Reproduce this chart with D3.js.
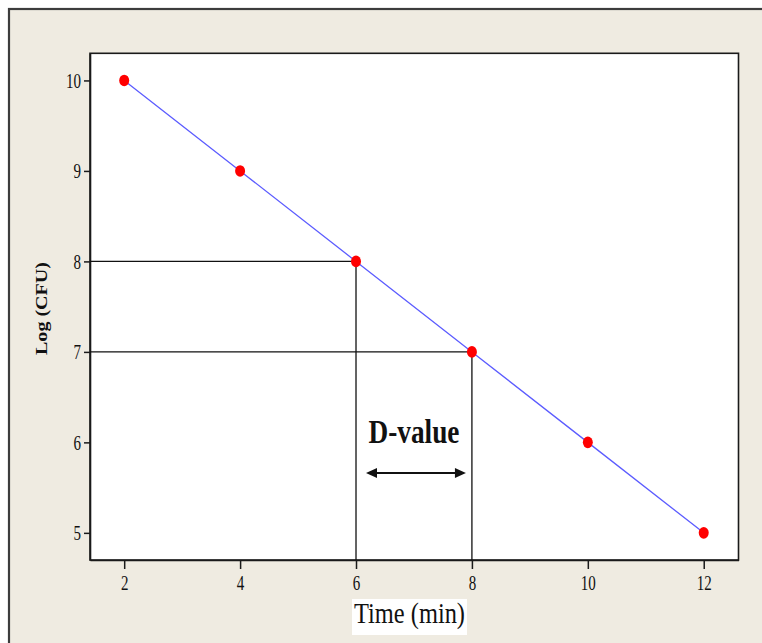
<!DOCTYPE html>
<html>
<head>
<meta charset="utf-8">
<script src="https://cdn.jsdelivr.net/npm/d3@7"></script>
<style>
  html, body { margin: 0; padding: 0; background: #ffffff; }
  svg { display: block; }
  text { font-family: "Liberation Serif", "Times New Roman", serif; fill: #111; }
</style>
</head>
<body>
<svg id="chart" width="762" height="643"></svg>
<script>
// ---- data ----
const times = [2, 4, 6, 8, 10, 12];
const logCFU = [10, 9, 8, 7, 6, 5];
const xTicks = [2, 4, 6, 8, 10, 12];
const yTicks = [5, 6, 7, 8, 9, 10];
const xDomain = [1.41, 12.6];
const yDomain = [4.70, 10.30];
const refTimes = [6, 8];        // guide lines from these points
const refLogs = [8, 7];
const annotationLabel = "D-value";
const xTitle = "Time (min)";
const yTitle = "Log (CFU)";

const svg = d3.select("#chart");
const W = 762, H = 643;
const plot = { left: 90, top: 53.3, right: 738.5, bottom: 560 };

// outer panel
svg.append("rect").attr("x", 0).attr("y", 0).attr("width", W).attr("height", H).attr("fill", "#ffffff");
svg.append("rect").attr("x", 9).attr("y", 9).attr("width", W + 10).attr("height", H + 10)
  .attr("fill", "#efebe1").attr("stroke", "#3c3c3c").attr("stroke-width", 2.2);

const x = d3.scaleLinear().domain(xDomain).range([plot.left, plot.right]);
const y = d3.scaleLinear().domain(yDomain).range([plot.bottom, plot.top]);

// plot area
svg.append("rect").attr("x", plot.left).attr("y", plot.top)
  .attr("width", plot.right - plot.left).attr("height", plot.bottom - plot.top)
  .attr("fill", "#ffffff").attr("stroke", "#1a1a1a").attr("stroke-width", 1.6);

// axes
const xAxis = svg.append("g").attr("transform", `translate(0,${plot.bottom})`)
  .call(d3.axisBottom(x).tickValues(xTicks).tickSize(9).tickSizeOuter(0).tickPadding(0).tickFormat(d3.format("d")));
const yAxis = svg.append("g").attr("transform", `translate(${plot.left},0)`)
  .call(d3.axisLeft(y).tickValues(yTicks).tickSize(6).tickSizeOuter(0).tickPadding(0).tickFormat(d3.format("d")));
[xAxis, yAxis].forEach(g => {
  g.select(".domain").attr("stroke", "#1a1a1a").attr("stroke-width", 1.6);
  g.selectAll(".tick line").attr("stroke", "#1a1a1a").attr("stroke-width", 1.5);
  g.selectAll("text").attr("font-size", 20).attr("font-family", "Liberation Serif, serif")
    .attr("fill", "#000")
    .attr("lengthAdjust", "spacingAndGlyphs")
    .attr("textLength", function() { return this.textContent.length * 7.5; });
});
xAxis.selectAll("text").attr("y", 30).attr("dy", null);
yAxis.selectAll("text").attr("x", -9).attr("dy", "0.34em");

// guide lines
refTimes.forEach((t, i) => {
  const v = refLogs[i];
  svg.append("line").attr("x1", plot.left).attr("x2", x(t)).attr("y1", y(v)).attr("y2", y(v))
    .attr("stroke", "#111").attr("stroke-width", 1.3);
  svg.append("line").attr("x1", x(t)).attr("x2", x(t)).attr("y1", y(v)).attr("y2", plot.bottom)
    .attr("stroke", "#111").attr("stroke-width", 1.3);
});

// regression line
const pts = times.map((t, i) => [t, logCFU[i]]);
svg.append("path").datum(pts)
  .attr("d", d3.line().x(d => x(d[0])).y(d => y(d[1])))
  .attr("fill", "none").attr("stroke", "#5c5cff").attr("stroke-width", 1.3);

// points
svg.selectAll("ellipse.pt").data(pts).join("ellipse").attr("class", "pt")
  .attr("cx", d => x(d[0])).attr("cy", d => y(d[1]))
  .attr("rx", 5).attr("ry", 5.8).attr("fill", "#ff0000");

// D-value annotation
const a0 = x(refTimes[0]) + 10, a1 = x(refTimes[1]) - 6, ay = 473;
svg.append("line").attr("x1", a0 + 6).attr("x2", a1 - 6).attr("y1", ay).attr("y2", ay)
  .attr("stroke", "#111").attr("stroke-width", 2);
svg.append("path").attr("d", `M${a0},${ay} L${a0 + 11},${ay - 5} L${a0 + 11},${ay + 5} Z`).attr("fill", "#111");
svg.append("path").attr("d", `M${a1},${ay} L${a1 - 11},${ay - 5} L${a1 - 11},${ay + 5} Z`).attr("fill", "#111");
svg.append("text").attr("x", (x(refTimes[0]) + x(refTimes[1])) / 2).attr("y", 443)
  .attr("text-anchor", "middle").attr("font-size", 34).attr("font-weight", "bold")
  .attr("lengthAdjust", "spacingAndGlyphs").attr("textLength", 91)
  .text(annotationLabel);

// x title with white box
svg.append("rect").attr("x", 352).attr("y", 599).attr("width", 115).attr("height", 36).attr("fill", "#ffffff");
svg.append("text").attr("x", 354).attr("y", 623).attr("font-size", 29)
  .attr("lengthAdjust", "spacingAndGlyphs").attr("textLength", 111)
  .text(xTitle);

// y title
svg.append("text").attr("transform", `translate(46.5,${308.5}) rotate(-90)`)
  .attr("text-anchor", "middle").attr("font-size", 17).attr("font-weight", "bold")
  .attr("lengthAdjust", "spacingAndGlyphs").attr("textLength", 93)
  .text(yTitle);
</script>
</body>
</html>
